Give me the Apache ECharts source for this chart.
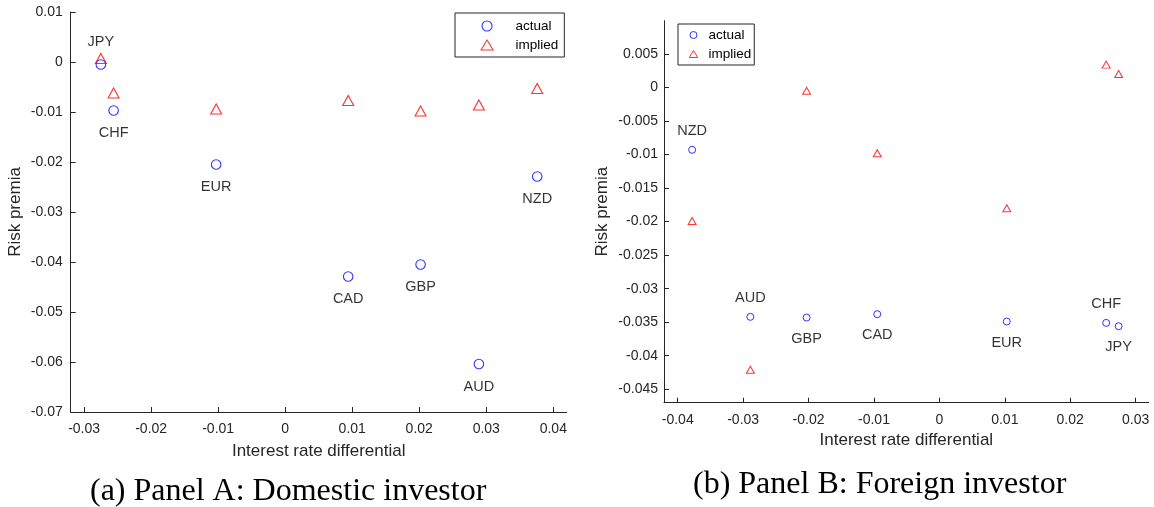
<!DOCTYPE html>
<html>
<head>
<meta charset="utf-8">
<script src="https://cdn.jsdelivr.net/npm/echarts@6/dist/echarts.min.js"></script>
<style>
  html, body { margin: 0; padding: 0; background: #fff; }
  #chart { width: 1154px; height: 507px; }
</style>
</head>
<body>
<div id="chart"></div>
<script>
// currencies, same order in both panels
var currencies = ['AUD', 'CAD', 'CHF', 'EUR', 'GBP', 'JPY', 'NZD'];

// Panel A: domestic investor
var diffA = [0.0289, 0.0094, -0.0256, -0.0103, 0.0202, -0.0275, 0.0376];
var actualA = [-0.0604, -0.0429, -0.0097, -0.0205, -0.0405, -0.0005, -0.0229];
var impliedA = [-0.0086, -0.0077, -0.0062, -0.0094, -0.0098, 0.0007, -0.0053];

// Panel B: foreign investor
var diffB = [-0.0289, -0.0095, 0.0255, 0.0103, -0.0203, 0.0274, -0.0378];
var actualB = [-0.0342, -0.0338, -0.0351, -0.0349, -0.0343, -0.0356, -0.0093];
var impliedB = [-0.0421, -0.0098, 0.0034, -0.0180, -0.0005, 0.0020, -0.0199];

// tick labels
var xTicksA = [-0.03, -0.02, -0.01, 0, 0.01, 0.02, 0.03, 0.04];
var yTicksA = [0.01, 0, -0.01, -0.02, -0.03, -0.04, -0.05, -0.06, -0.07];
var xTicksB = [-0.04, -0.03, -0.02, -0.01, 0, 0.01, 0.02, 0.03];
var yTicksB = [0.005, 0, -0.005, -0.01, -0.015, -0.02, -0.025, -0.03, -0.035, -0.04, -0.045];

// which labels sit above their circle
var labelAboveA = ['JPY'];
var labelAboveB = ['NZD', 'AUD', 'CHF'];

var axisColor = '#262626';
var font = 'Liberation Sans';
// legend triangles: zero-length end segments widen the box so the triangle isn't stretched
var triIconA = 'path://M0,10L0,10M17.5,10L23.5,0L29.5,10ZM47,10L47,10';
var triIconB = 'path://M0,7L0,7M5.8,7L10,0L14.2,7ZM20,7L20,7';

function pairs(xs, ys) {
     return xs.map(function (x, i) { return [x, ys[i]]; });
}

function labelled(xs, ys, above, dTop, dBottom) {
     return xs.map(function (x, i) {
          var up = above.indexOf(currencies[i]) >= 0;
          return {
               name: currencies[i],
               value: [x, ys[i]],
               label: { position: up ? 'top' : 'bottom', distance: up ? dTop : dBottom }
          };
     });
}

function xAxisOf(idx, min, max, ticks, gap, margin) {
     return {
          gridIndex: idx, type: 'value', min: min, max: max,
          name: 'Interest rate differential', nameLocation: 'middle', nameGap: gap,
          nameTextStyle: { color: axisColor, fontSize: 17, fontFamily: font, verticalAlign: 'top' },
          axisLine: { onZero: false, lineStyle: { color: axisColor, width: 1 } },
          axisTick: { inside: true, length: 5, customValues: ticks, lineStyle: { color: axisColor } },
          axisLabel: { customValues: ticks, color: axisColor, fontSize: 14, fontFamily: font, margin: margin },
          splitLine: { show: false }
     };
}

function yAxisOf(idx, min, max, ticks, gap, margin) {
     return {
          gridIndex: idx, type: 'value', min: min, max: max,
          name: 'Risk premia', nameLocation: 'middle', nameGap: gap, nameRotate: 90,
          nameTextStyle: { color: axisColor, fontSize: 17, fontFamily: font },
          axisLine: { show: true, onZero: false, lineStyle: { color: axisColor, width: 1 } },
          axisTick: { show: true, inside: true, length: 5, customValues: ticks, lineStyle: { color: axisColor } },
          axisLabel: { customValues: ticks, color: axisColor, fontSize: 14, fontFamily: font, margin: margin },
          splitLine: { show: false }
     };
}

var pointLabel = { show: true, formatter: '{b}', color: '#000', fontSize: 14.5, fontFamily: font };

var option = {
     animation: false,
     backgroundColor: '#fff',
     grid: [
          { left: 70.7, top: 12, width: 496, height: 400 },
          { left: 664, top: 20.7, width: 484.7, height: 382 }
     ],
     xAxis: [
          xAxisOf(0, -0.032, 0.042, xTicksA, 31, 10),
          xAxisOf(1, -0.0421, 0.032, xTicksB, 28, 10)
     ],
     yAxis: [
          yAxisOf(0, -0.07, 0.01, yTicksA, 47, 8),
          yAxisOf(1, -0.047, 0.00995, yTicksB, 53, 6)
     ],
     legend: [
          {
               data: [{ name: 'actual' }, { name: 'implied', icon: triIconA }],
               orient: 'vertical', left: 455, top: 13,
               selectedMode: false,
               itemWidth: 47, itemHeight: 10, itemGap: 5,
               itemStyle: { borderWidth: 1.1 },
               padding: [6, 6, 5, 8], borderColor: axisColor, borderWidth: 1, backgroundColor: '#fff',
               textStyle: { color: '#000', fontSize: 13.5, fontFamily: font, lineHeight: 14 }
          },
          {
               data: [{ name: 'actual' }, { name: 'implied', icon: triIconB }],
               orient: 'vertical', left: 678, top: 24,
               selectedMode: false,
               itemWidth: 20, itemHeight: 7, itemGap: 5,
               itemStyle: { borderWidth: 1 },
               padding: [4, 3, 4, 5], borderColor: axisColor, borderWidth: 1, backgroundColor: '#fff',
               textStyle: { color: '#000', fontSize: 13.5, fontFamily: font, lineHeight: 13 }
          }
     ],
     series: [
          {
               name: 'actual', type: 'scatter', xAxisIndex: 0, yAxisIndex: 0,
               symbol: 'circle', symbolSize: 9.5,
               itemStyle: { color: 'rgba(0,0,0,0)', borderColor: '#0000ff', borderWidth: 1.1 },
               label: pointLabel,
               data: labelled(diffA, actualA, labelAboveA, 10, 10)
          },
          {
               name: 'implied', type: 'scatter', xAxisIndex: 0, yAxisIndex: 0,
               symbol: 'triangle', symbolSize: [11, 10],
               itemStyle: { color: 'rgba(0,0,0,0)', borderColor: '#ff0000', borderWidth: 1.1 },
               data: pairs(diffA, impliedA)
          },
          {
               name: 'actual', type: 'scatter', xAxisIndex: 1, yAxisIndex: 1,
               symbol: 'circle', symbolSize: 7,
               itemStyle: { color: 'rgba(0,0,0,0)', borderColor: '#0000ff', borderWidth: 1 },
               label: pointLabel,
               data: labelled(diffB, actualB, labelAboveB, 7, 9.5)
          },
          {
               name: 'implied', type: 'scatter', xAxisIndex: 1, yAxisIndex: 1,
               symbol: 'triangle', symbolSize: [8, 7],
               itemStyle: { color: 'rgba(0,0,0,0)', borderColor: '#ff0000', borderWidth: 1 },
               data: pairs(diffB, impliedB)
          }
     ],
     graphic: [
          {
               type: 'text', left: 90, top: 476,
               style: { text: '(a) Panel A: Domestic investor', fill: '#000', font: '32px "Liberation Serif"' }
          },
          {
               type: 'text', left: 693, top: 469,
               style: { text: '(b) Panel B: Foreign investor', fill: '#000', font: '32px "Liberation Serif"' }
          }
     ]
};

var chart = echarts.init(document.getElementById('chart'));
chart.setOption(option);
</script>
</body>
</html>
